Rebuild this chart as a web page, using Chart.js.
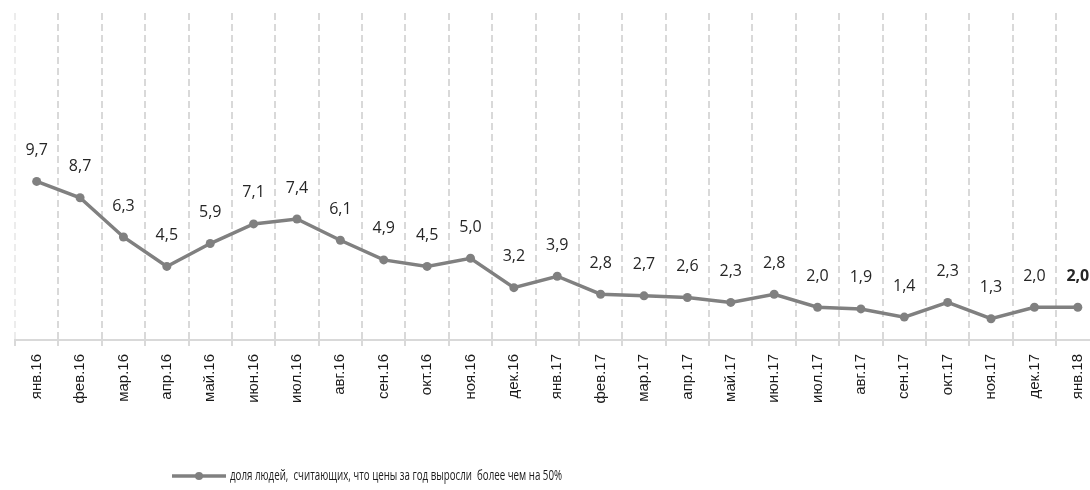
<!DOCTYPE html>
<html>
<head>
<meta charset="utf-8">
<script src="https://cdn.jsdelivr.net/npm/chart.js@4/dist/chart.umd.min.js"></script>
<style>
  html, body { margin: 0; padding: 0; background: #ffffff; overflow: hidden; }
  #wrap { position: relative; width: 1104px; height: 490px; }
</style>
</head>
<body>
<div id="wrap"><canvas id="c"></canvas></div>
<script>
const categories = ['янв.16','фев.16','мар.16','апр.16','май.16','июн.16','июл.16','авг.16','сен.16','окт.16','ноя.16','дек.16',
  'янв.17','фев.17','мар.17','апр.17','май.17','июн.17','июл.17','авг.17','сен.17','окт.17','ноя.17','дек.17','янв.18'];
const seriesValues = [9.7, 8.7, 6.3, 4.5, 5.9, 7.1, 7.4, 6.1, 4.9, 4.5, 5.0, 3.2, 3.9, 2.8, 2.7, 2.6, 2.3, 2.8, 2.0, 1.9, 1.4, 2.3, 1.3, 2.0, 2.0];
const seriesName = 'доля людей,  считающих, что цены за год выросли  более чем на 50%';

const FONT = '"Open Sans", "Liberation Sans", sans-serif';
const TICK_FONT = '"Liberation Sans", Arial, sans-serif';
const LEGEND_FONT = '"Open Sans", "Liberation Sans", sans-serif';
const LINE_COLOR = '#808080';

const dataLabels = {
  id: 'dataLabels',
  afterDatasetsDraw(chart) {
    const ctx = chart.ctx;
    const meta = chart.getDatasetMeta(0);
    ctx.save();
    ctx.textAlign = 'center';
    ctx.textBaseline = 'middle';
    ctx.fillStyle = '#262626';
    meta.data.forEach((pt, i) => {
      const last = i === meta.data.length - 1;
      ctx.font = (last ? 'bold ' : '') + '16px ' + FONT;
      const v = seriesValues[i].toFixed(1).replace('.', ',');
      ctx.fillText(v, pt.x, pt.y - 31);
    });
    ctx.restore();
  }
};

const customLegend = {
  id: 'customLegend',
  afterDraw(chart) {
    const ctx = chart.ctx;
    const y = 476;
    ctx.save();
    ctx.strokeStyle = LINE_COLOR;
    ctx.lineWidth = 3.5;
    ctx.beginPath();
    ctx.moveTo(172, y);
    ctx.lineTo(226, y);
    ctx.stroke();
    ctx.fillStyle = LINE_COLOR;
    ctx.beginPath();
    ctx.arc(199, y, 4, 0, Math.PI * 2);
    ctx.fill();
    ctx.fillStyle = '#1a1a1a';
    ctx.font = '15px ' + LEGEND_FONT;
    ctx.textAlign = 'left';
    ctx.textBaseline = 'middle';
    ctx.fillText(seriesName, 230, y, 332);
    ctx.restore();
  }
};

new Chart(document.getElementById('c'), {
  type: 'line',
  data: {
    labels: categories,
    datasets: [{
      label: seriesName,
      data: seriesValues,
      borderColor: LINE_COLOR,
      backgroundColor: LINE_COLOR,
      borderWidth: 3.5,
      pointRadius: 4.5,
      pointHoverRadius: 4.5,
      pointBackgroundColor: LINE_COLOR,
      pointBorderWidth: 0,
      tension: 0,
      fill: false
    }]
  },
  options: {
    responsive: true,
    maintainAspectRatio: false,
    animation: false,
    devicePixelRatio: 1,
    layout: { padding: { left: 15, top: 13, right: 0, bottom: 0 } },
    plugins: {
      legend: { display: false },
      tooltip: { enabled: false }
    },
    scales: {
      x: {
        type: 'category',
        offset: true,
        grid: {
          offset: true,
          display: true,
          color: (c) => c.index === 0 ? '#ececec' : '#d9d9d9',
          lineWidth: 2,
          drawTicks: true,
          tickLength: 6,
          tickColor: '#d9d9d9',
          tickWidth: 2
        },
        border: { display: true, color: '#d9d9d9', width: 2, dash: [7, 4] },
        ticks: {
          minRotation: 90,
          maxRotation: 90,
          autoSkip: false,
          padding: 8,
          color: '#1a1a1a',
          font: { family: TICK_FONT, size: 15 }
        },
        afterFit(scale) { scale.height = 150; }
      },
      y: {
        display: false,
        min: 0,
        max: 20
      }
    }
  },
  plugins: [dataLabels, customLegend]
});
</script>
</body>
</html>
